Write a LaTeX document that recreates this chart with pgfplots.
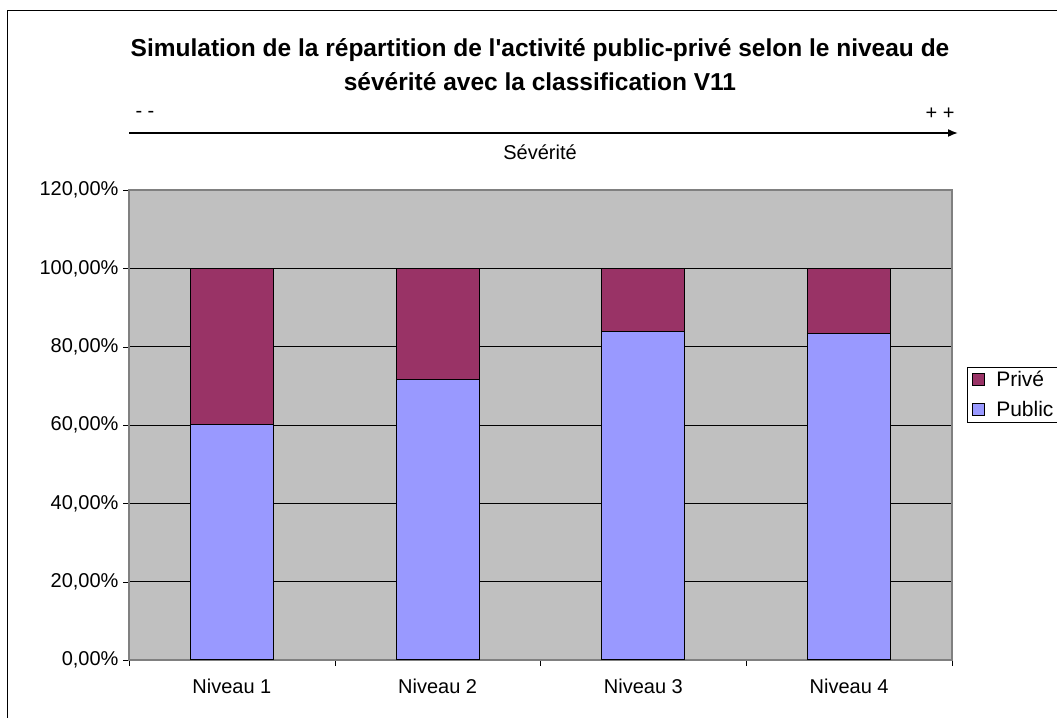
\documentclass[border=0pt]{standalone}
\usepackage{pgfplots}
\pgfplotsset{compat=1.18}
\usepackage{fontspec}
\setmainfont{Liberation Sans}
\usetikzlibrary{arrows.meta}
\definecolor{publicc}{HTML}{9999FF}
\definecolor{privec}{HTML}{993366}
\definecolor{bgc}{HTML}{C0C0C0}
\definecolor{framec}{HTML}{808080}
\begin{document}
\begin{tikzpicture}[x=1bp,y=1bp]
\path[use as bounding box] (0,0) rectangle (1057,718);
\draw[black,line width=1bp] (7,-20) -- (7,707) -- (1120,707);
\node[font=\fontsize{24.5bp}{28bp}\selectfont\bfseries] at (540,668) {Simulation de la répartition de l\textquotesingle activité public-privé selon le niveau de};
\node[font=\fontsize{24.5bp}{28bp}\selectfont\bfseries] at (540,636) {sévérité avec la classification V11};
\draw[line width=1.6bp,-{Latex[length=10bp,width=8bp]}] (129,585) -- (958,585);
\node[anchor=west,font=\fontsize{20bp}{24bp}\selectfont] at (132,604) {- -};
\node[anchor=east,font=\fontsize{20bp}{24bp}\selectfont] at (958,604) {+ +};
\node[font=\fontsize{20bp}{24bp}\selectfont] at (540,566) {Sévérité};
\begin{axis}[
  at={(129bp,58bp)}, anchor=south west,
  scale only axis, width=823bp, height=470bp,
  ybar stacked, bar width=83bp,
  xmin=-0.5, xmax=3.5, ymin=0, ymax=1.2,
  xtick={0,1,2,3},
  xticklabels={Niveau 1,Niveau 2,Niveau 3,Niveau 4},
  major x tick style={draw=none},
  minor xtick={-0.5,0.5,1.5,2.5,3.5},
  minor x tick style={black},
  ytick={0,0.2,0.4,0.6,0.8,1.0,1.2},
  yticklabels={{0,00\%},{20,00\%},{40,00\%},{60,00\%},{80,00\%},{100,00\%},{120,00\%}},
  tick align=outside, tick pos=left,
  major tick length=6bp, minor tick length=6bp,
  ytick style={black},
  ymajorgrids, grid style={black,line width=0.8bp},
  axis line style={framec,line width=1.2bp},
  axis background/.style={fill=bgc},
  tick label style={font=\fontsize{20bp}{24bp}\selectfont},
  xticklabel style={yshift=-9bp},
  yticklabel style={xshift=-1bp},
  legend style={at={(axis description cs:1.0182,0.6234)}, anchor=north west,
    draw=black, line width=0.8bp, font=\fontsize{21bp}{24bp}\selectfont,
    row sep=9bp, inner xsep=5bp, inner ysep=2bp, fill=white},
  legend cell align=left,
  reverse legend,
  legend image code/.code={\draw[#1,draw=black,line width=0.8bp] (0bp,-6bp) rectangle (12bp,6bp); \path (21bp,0bp);},
]
\addplot[fill=publicc,draw=black,line width=1bp] coordinates {(0,0.600) (1,0.717) (2,0.8375) (3,0.833)};
\addplot[fill=privec,draw=black,line width=1bp] coordinates {(0,0.400) (1,0.283) (2,0.1625) (3,0.167)};
\legend{Public,Privé}
\end{axis}
\end{tikzpicture}
\end{document}
